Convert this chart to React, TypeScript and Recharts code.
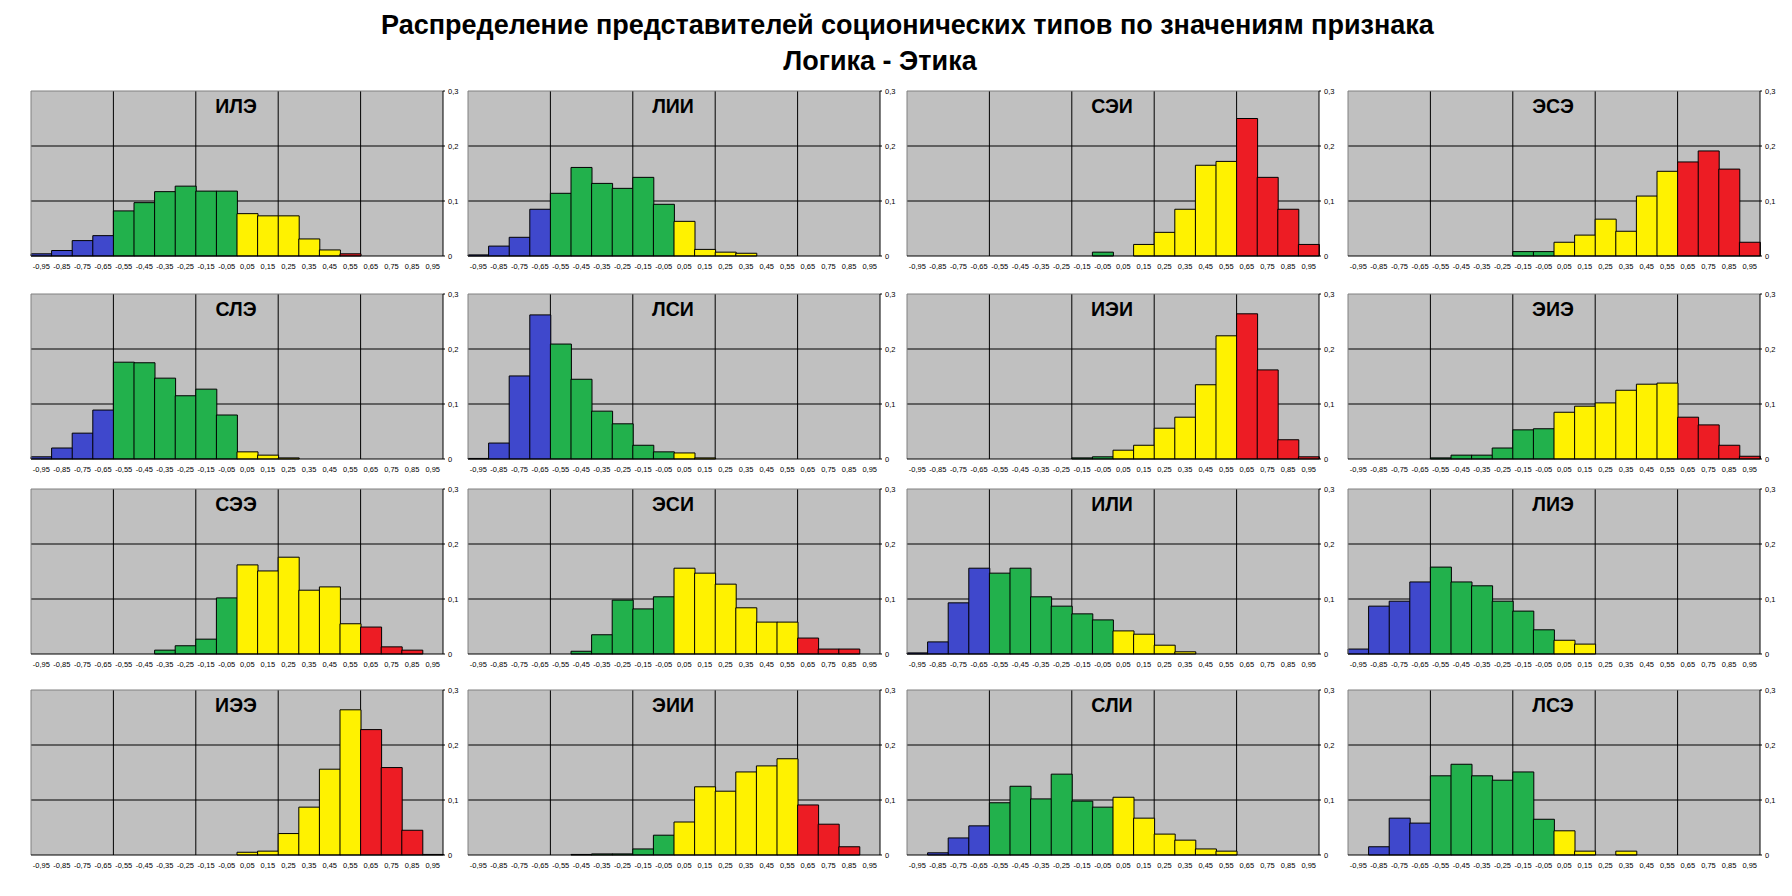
import type { ReactElement } from 'react';
import {
  Bar,
  BarChart,
  CartesianGrid,
  Cell,
  ReferenceLine,
  XAxis,
  YAxis,
} from 'recharts';

// bin centres of the "Logic - Ethics" scale, 20 bins of width 0.1
const BIN_CENTERS = [
  -0.95, -0.85, -0.75, -0.65, -0.55, -0.45, -0.35, -0.25, -0.15, -0.05,
  0.05, 0.15, 0.25, 0.35, 0.45, 0.55, 0.65, 0.75, 0.85, 0.95,
];
const BIN_LABELS = BIN_CENTERS.map((v) => v.toFixed(2).replace('.', ','));
const Y_TICKS = [0, 0.1, 0.2, 0.3];
const GRID_X = [-0.6, -0.2, 0.2, 0.6];
const GRID_Y = [0.1, 0.2];

// share of type members per bin
const ILE = [0.004, 0.01, 0.028, 0.037, 0.082, 0.097, 0.117, 0.127, 0.118, 0.118, 0.077, 0.073, 0.073, 0.031, 0.011, 0.004, 0, 0, 0, 0];
const LII = [0.002, 0.018, 0.034, 0.085, 0.114, 0.161, 0.132, 0.123, 0.143, 0.094, 0.063, 0.012, 0.007, 0.005, 0, 0, 0, 0, 0, 0];
const SEI = [0, 0, 0, 0, 0, 0, 0, 0, 0, 0.007, 0, 0.021, 0.043, 0.085, 0.165, 0.172, 0.25, 0.143, 0.085, 0.021];
const ESE = [0, 0, 0, 0, 0, 0, 0, 0, 0.008, 0.008, 0.025, 0.038, 0.067, 0.045, 0.109, 0.154, 0.171, 0.191, 0.158, 0.025];
const SLE = [0.004, 0.02, 0.047, 0.089, 0.176, 0.175, 0.147, 0.115, 0.127, 0.08, 0.013, 0.007, 0.002, 0, 0, 0, 0, 0, 0, 0];
const LSI = [0.001, 0.029, 0.151, 0.262, 0.209, 0.145, 0.087, 0.064, 0.025, 0.013, 0.011, 0.002, 0, 0, 0, 0, 0, 0, 0, 0];
const IEI = [0, 0, 0, 0, 0, 0, 0, 0, 0.002, 0.004, 0.016, 0.025, 0.056, 0.076, 0.135, 0.224, 0.264, 0.162, 0.035, 0.004];
const EIE = [0, 0, 0, 0, 0.002, 0.007, 0.007, 0.02, 0.053, 0.055, 0.085, 0.096, 0.102, 0.125, 0.136, 0.138, 0.076, 0.062, 0.025, 0.005];
const SEE = [0, 0, 0, 0, 0, 0, 0.007, 0.015, 0.027, 0.102, 0.162, 0.151, 0.176, 0.116, 0.122, 0.055, 0.049, 0.013, 0.007, 0];
const ESI = [0, 0, 0, 0, 0, 0.005, 0.035, 0.098, 0.082, 0.104, 0.156, 0.147, 0.127, 0.084, 0.058, 0.058, 0.029, 0.009, 0.009, 0];
const ILI = [0.002, 0.022, 0.093, 0.156, 0.147, 0.156, 0.104, 0.087, 0.073, 0.062, 0.042, 0.036, 0.016, 0.004, 0, 0, 0, 0, 0, 0];
const LIE = [0.009, 0.087, 0.096, 0.131, 0.158, 0.131, 0.124, 0.096, 0.078, 0.044, 0.025, 0.018, 0, 0, 0, 0, 0, 0, 0, 0];
const IEE = [0, 0, 0, 0, 0, 0, 0, 0, 0, 0, 0.005, 0.007, 0.039, 0.087, 0.156, 0.264, 0.228, 0.159, 0.045, 0.001];
const EII = [0, 0, 0, 0, 0, 0.001, 0.002, 0.002, 0.011, 0.036, 0.06, 0.124, 0.116, 0.151, 0.162, 0.175, 0.091, 0.056, 0.015, 0];
const SLI = [0, 0.004, 0.031, 0.053, 0.095, 0.125, 0.102, 0.147, 0.098, 0.087, 0.105, 0.067, 0.038, 0.027, 0.011, 0.007, 0, 0, 0, 0];
const LSE = [0, 0.015, 0.067, 0.058, 0.144, 0.165, 0.144, 0.136, 0.151, 0.065, 0.044, 0.007, 0, 0.007, 0, 0, 0, 0, 0, 0];

const BLUE = '#3F48CC';
const GREEN = '#22B14C';
const YELLOW = '#FFF200';
const RED = '#ED1C24';

const ZONE_COLORS = [
  BLUE, BLUE, BLUE, BLUE,
  GREEN, GREEN, GREEN, GREEN, GREEN, GREEN,
  YELLOW, YELLOW, YELLOW, YELLOW, YELLOW, YELLOW,
  RED, RED, RED, RED,
];
// ИЛЭ has its 0,55 bin painted red in the original
const ILE_COLORS = ZONE_COLORS.map((c, i) => (i === 15 ? RED : c));

const PANELS = [
  { name: 'ИЛЭ', values: ILE, colors: ILE_COLORS },
  { name: 'ЛИИ', values: LII, colors: ZONE_COLORS },
  { name: 'СЭИ', values: SEI, colors: ZONE_COLORS },
  { name: 'ЭСЭ', values: ESE, colors: ZONE_COLORS },
  { name: 'СЛЭ', values: SLE, colors: ZONE_COLORS },
  { name: 'ЛСИ', values: LSI, colors: ZONE_COLORS },
  { name: 'ИЭИ', values: IEI, colors: ZONE_COLORS },
  { name: 'ЭИЭ', values: EIE, colors: ZONE_COLORS },
  { name: 'СЭЭ', values: SEE, colors: ZONE_COLORS },
  { name: 'ЭСИ', values: ESI, colors: ZONE_COLORS },
  { name: 'ИЛИ', values: ILI, colors: ZONE_COLORS },
  { name: 'ЛИЭ', values: LIE, colors: ZONE_COLORS },
  { name: 'ИЭЭ', values: IEE, colors: ZONE_COLORS },
  { name: 'ЭИИ', values: EII, colors: ZONE_COLORS },
  { name: 'СЛИ', values: SLI, colors: ZONE_COLORS },
  { name: 'ЛСЭ', values: LSE, colors: ZONE_COLORS },
];

// page layout (plot area corners)
const COL_LEFT = [30, 467, 906, 1347];
const ROW_TOP = [90, 293, 488, 689];
const PLOT_W = 412;
const PLOT_H = 165;
const M_LEFT = 2;
const M_TOP = 4;
const Y_AXIS_W = 28;
const X_AXIS_H = 18;

const FONT = '"Liberation Sans", Arial, sans-serif';

interface PanelProps {
  name: string;
  values: number[];
  colors: string[];
  left: number;
  top: number;
}

function Panel({ name, values, colors, left, top }: PanelProps): ReactElement {
  const data = BIN_CENTERS.map((x, i) => ({
    x,
    bin: BIN_LABELS[i],
    value: values[i],
  }));

  return (
    <>
      {/* half-pixel shift keeps the 1px grid lines crisp */}
      <div style={{ position: 'absolute', left: left - M_LEFT + 0.5, top: top - M_TOP + 0.5 }}>
        <BarChart
          width={M_LEFT + PLOT_W + Y_AXIS_W}
          height={M_TOP + PLOT_H + X_AXIS_H}
          data={data}
          margin={{ top: M_TOP, right: 0, bottom: 0, left: M_LEFT }}
          barCategoryGap={0}
          barGap={0}
        >
          <CartesianGrid
            xAxisId="num"
            yAxisId="val"
            verticalValues={GRID_X}
            horizontalValues={GRID_Y}
            stroke="#000"
            strokeWidth={1}
            fill="#C0C0C0"
            fillOpacity={1}
          />
          <XAxis
            xAxisId="num"
            type="number"
            dataKey="x"
            domain={[-1, 1]}
            ticks={[-1, ...GRID_X, 1]}
            allowDataOverflow
            interval={0}
            height={0}
            axisLine={false}
            tickFormatter={() => ''}
            tickLine={{ stroke: '#000' }}
            tickSize={3}
          />
          <XAxis
            xAxisId="cat"
            dataKey="bin"
            interval={0}
            height={X_AXIS_H}
            axisLine={{ stroke: '#000' }}
            tickLine={false}
            tickSize={0}
            tickMargin={8}
            tick={{ fontSize: 7.5, fill: '#000' }}
          />
          <YAxis
            yAxisId="val"
            orientation="right"
            domain={[0, 0.3]}
            ticks={Y_TICKS}
            width={Y_AXIS_W}
            axisLine={{ stroke: '#000' }}
            tickLine={{ stroke: '#000' }}
            tickSize={2}
            tickMargin={3}
            tick={{ fontSize: 7.5, fill: '#000' }}
            tickFormatter={(v: number) => String(v).replace('.', ',')}
          />
          <ReferenceLine xAxisId="num" yAxisId="val" y={0.3} stroke="#808080" />
          <ReferenceLine xAxisId="num" yAxisId="val" x={-1} stroke="#808080" />
          <Bar
            xAxisId="cat"
            yAxisId="val"
            dataKey="value"
            stroke="#000"
            strokeWidth={1}
            isAnimationActive={false}
          >
            {colors.map((c, i) => (
              <Cell key={i} fill={c} />
            ))}
          </Bar>
        </BarChart>
      </div>
      <div
        style={{
          position: 'absolute',
          left,
          top: top + 6.5,
          width: PLOT_W,
          textAlign: 'center',
          fontSize: 19.5,
          fontWeight: 'bold',
          lineHeight: 1,
        }}
      >
        {name}
      </div>
    </>
  );
}

export default function App(): ReactElement {
  return (
    <div
      style={{
        position: 'absolute',
        left: 0,
        top: 0,
        width: 1792,
        height: 896,
        background: '#fff',
        fontFamily: FONT,
        color: '#000',
      }}
    >
      <div
        style={{
          position: 'absolute',
          left: 381,
          top: 12,
          width: 1000,
          textAlign: 'center',
          fontSize: 27,
          fontWeight: 'bold',
          lineHeight: 1,
          whiteSpace: 'nowrap',
        }}
      >
        Распределение представителей соционических типов по значениям признака
      </div>
      <div
        style={{
          position: 'absolute',
          left: 380,
          top: 48,
          width: 1000,
          textAlign: 'center',
          fontSize: 27,
          fontWeight: 'bold',
          lineHeight: 1,
        }}
      >
        Логика - Этика
      </div>
      {PANELS.map((p, i) => (
        <Panel
          key={p.name}
          name={p.name}
          values={p.values}
          colors={p.colors}
          left={COL_LEFT[i % 4]}
          top={ROW_TOP[Math.floor(i / 4)]}
        />
      ))}
    </div>
  );
}
